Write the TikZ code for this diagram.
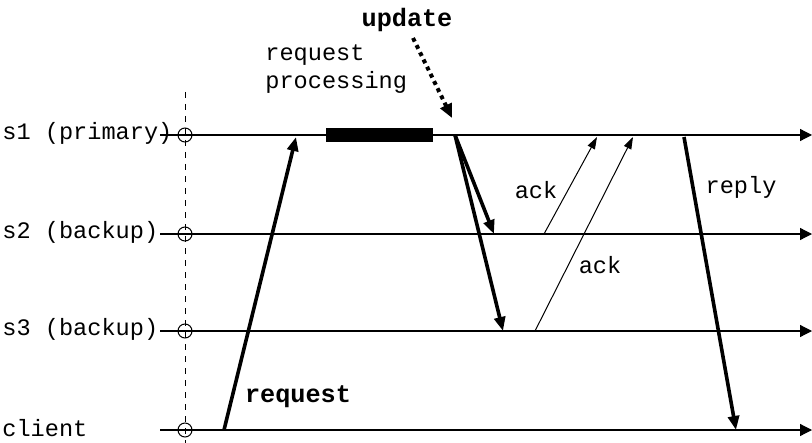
\documentclass[tikz,border=0pt]{standalone}
\usepackage{fontspec}
\setmonofont{Liberation Mono}
\usetikzlibrary{arrows.meta}
\tikzset{
  lbl/.style={font=\ttfamily\fontsize{11.8}{14}\selectfont, inner sep=0pt},
  blbl/.style={font=\ttfamily\bfseries\fontsize{12.6}{14}\selectfont, inner sep=0pt},
  tl/.style={line width=0.6pt, -{Triangle[length=6pt,width=6pt]}},
  msg/.style={line width=1.8pt, -{Triangle[length=7pt,width=5.5pt]}},
  ackmsg/.style={line width=0.5pt, -{Triangle[length=6pt,width=4pt]}},
  proc/.style={circle, draw, line width=0.5pt, minimum size=7pt, inner sep=0pt}
}
\begin{document}
\begin{tikzpicture}[x=0.5pt,y=-0.5pt]
\useasboundingbox (0,0) rectangle (812,443);
% process lines
\draw[dashed, line width=0.4pt] (185,92) -- (185,443);
\foreach \n/\y/\t in {s1/135/s1 (primary), s2/234/s2 (backup), s3/331/s3 (backup), cl/430/client} {
  \node[lbl, anchor=west] (\n lbl) at (2,\y-2) {\t};
  \coordinate (\n a) at (160,\y);
  \coordinate (\n b) at (812,\y);
  \draw[tl] (\n a) -- (\n b);
  \node[proc] (\n c) at (185,\y) {};
}
% request
\coordinate (rq0) at (224,430);
\coordinate (rq1) at (296,137);
\draw[msg] (rq0) -- (rq1);
\node[blbl] (rqlbl) at (298,397) {request};
% processing
\fill (326,128) rectangle (433,142);
\node[lbl, anchor=north west, align=left] (plbl) at (265,44) {request\\processing};
% update
\node[blbl] (ulbl) at (407,20) {update};
\coordinate (u1) at (452,118);
\draw[line width=2pt, dotted, -{Triangle[length=7pt,width=6pt]}] (413,38) -- (u1);
\coordinate (up) at (455,135);
\coordinate (u2) at (494,234);
\coordinate (u3) at (503,331);
\draw[msg] (up) -- (u2);
\draw[msg] (up) -- (u3);
% acks
\coordinate (a2) at (544,234);
\coordinate (a3) at (535,331);
\coordinate (a2e) at (597,137);
\coordinate (a3e) at (633,137);
\draw[ackmsg] (a2) -- (a2e);
\draw[ackmsg] (a3) -- (a3e);
\node[lbl] (ack1) at (536,190) {ack};
\node[lbl] (ack2) at (600,265) {ack};
% reply
\coordinate (rp0) at (684,137);
\coordinate (rp1) at (736,430);
\draw[msg] (rp0) -- (rp1);
\node[lbl] (rplbl) at (741,187) {reply};
\end{tikzpicture}
\end{document}
